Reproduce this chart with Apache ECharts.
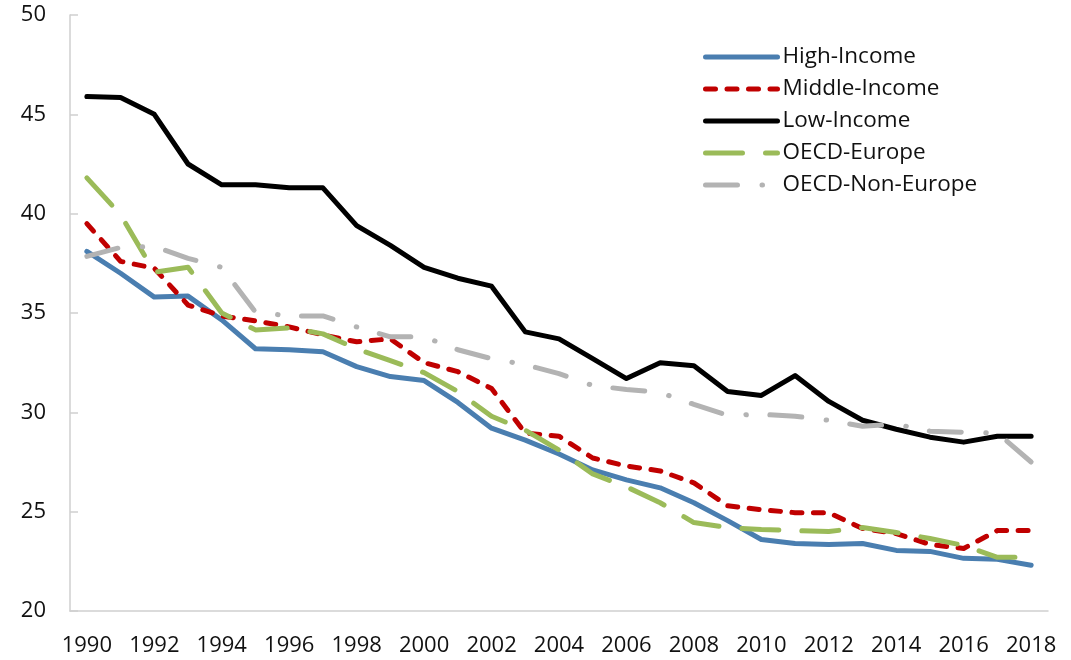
<!DOCTYPE html>
<html>
<head>
<meta charset="utf-8">
<script src="https://cdn.jsdelivr.net/npm/echarts@6/dist/echarts.min.js"></script>
<style>
  html, body { margin: 0; padding: 0; background: #fff; }
  #chart { width: 1071px; height: 660px; }
</style>
</head>
<body>
<div id="chart"></div>
<script>
// Years on the horizontal axis
const years = [];
for (let y = 1990; y <= 2018; y++) years.push(String(y));

// Series values, 1990–2018
const highIncome = [38.1, 37.0, 35.8, 35.85, 34.65, 33.2, 33.15, 33.05, 32.3, 31.8, 31.6, 30.5, 29.2, 28.6, 27.9, 27.1, 26.6, 26.2, 25.45, 24.55, 23.6, 23.4, 23.35, 23.4, 23.05, 23.0, 22.65, 22.6, 22.3];
const middleIncome = [39.5, 37.6, 37.25, 35.4, 34.85, 34.6, 34.3, 33.9, 33.55, 33.7, 32.5, 32.05, 31.2, 28.95, 28.8, 27.7, 27.3, 27.05, 26.45, 25.3, 25.1, 24.95, 24.95, 24.15, 23.9, 23.35, 23.15, 24.05, 24.05];
const lowIncome = [45.9, 45.85, 45.0, 42.5, 41.45, 41.45, 41.3, 41.3, 39.4, 38.4, 37.3, 36.75, 36.35, 34.05, 33.7, 32.7, 31.7, 32.5, 32.35, 31.05, 30.85, 31.85, 30.55, 29.6, 29.15, 28.75, 28.5, 28.8, 28.8];
const oecdEurope = [41.8, 39.95, 37.05, 37.3, 35.0, 34.15, 34.25, 33.95, 33.2, 32.6, 32.0, 31.05, 29.8, 29.1, 28.1, 26.9, 26.25, 25.45, 24.45, 24.2, 24.1, 24.05, 24.0, 24.2, 23.95, 23.65, 23.3, 22.7, 22.7];
const oecdNonEurope = [37.85, 38.3, 38.35, 37.75, 37.3, 35.05, 34.85, 34.85, 34.3, 33.8, 33.8, 33.15, 32.7, 32.4, 31.95, 31.35, 31.15, 31.0, 30.4, 29.85, 29.9, 29.8, 29.6, 29.3, 29.4, 29.05, 29.0, 28.95, 27.5];

// Y axis range
const yMin = 20, yMax = 50, yStep = 5;

const FONT = '"Open Sans", "Noto Sans", sans-serif';
const W = 5;

function lineSeries(name, data, color, dash, z) {
  return {
    name: name,
    type: 'line',
    data: data,
    symbol: 'none',
    z: z,
    lineStyle: { color: color, width: W, type: dash, cap: 'round', join: 'round' },
    itemStyle: { color: color }
  };
}

const chart = echarts.init(document.getElementById('chart'));
chart.setOption({
  animation: false,
  textStyle: { fontFamily: FONT },
  grid: { left: 70, right: 23, top: 15, bottom: 49 },
  legend: {
    orient: 'vertical',
    left: 703,
    top: 45,
    padding: 0,
    itemWidth: 72,
    itemHeight: 14,
    itemGap: 8,
    itemStyle: { opacity: 0 },
    lineStyle: { width: W, cap: 'round' },
    textStyle: { fontFamily: FONT, fontSize: 22.5, lineHeight: 24, color: '#111' },
    data: ['High-Income', 'Middle-Income', 'Low-Income', 'OECD-Europe', 'OECD-Non-Europe']
  },
  xAxis: {
    type: 'category',
    data: years,
    boundaryGap: true,
    axisLine: { lineStyle: { color: '#cfcfcf', width: 1.5 } },
    axisTick: { inside: true, length: 8, interval: 0, lineStyle: { color: '#cfcfcf', width: 1.5 } },
    axisLabel: { interval: 1, fontSize: 22, color: '#111', margin: 24, fontFamily: FONT },
    splitLine: { show: false }
  },
  yAxis: {
    type: 'value',
    min: yMin, max: yMax, interval: yStep,
    axisLine: { show: true, lineStyle: { color: '#cfcfcf', width: 1.5 } },
    axisTick: { show: true, inside: true, length: 8, lineStyle: { color: '#cfcfcf', width: 1.5 } },
    axisLabel: { fontSize: 22, color: '#111', margin: 24, fontFamily: FONT },
    splitLine: { show: false }
  },
  series: [
    lineSeries('High-Income', highIncome, '#4a7eb0', 'solid', 2),
    lineSeries('Middle-Income', middleIncome, '#c00000', [10, 11.5], 3),
    lineSeries('Low-Income', lowIncome, '#000000', 'solid', 4),
    lineSeries('OECD-Europe', oecdEurope, '#9bbb59', [37, 23], 5),
    lineSeries('OECD-Non-Europe', oecdNonEurope, '#b3b3b3', [32, 24.5, 0.5, 23.5], 6)
  ]
});
</script>
</body>
</html>
